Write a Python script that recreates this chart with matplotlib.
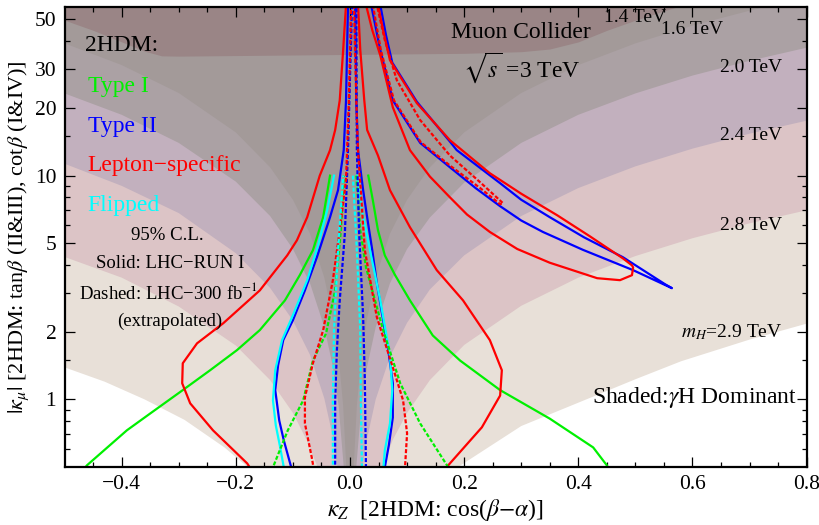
import matplotlib.pyplot as plt
from matplotlib.ticker import FixedLocator, NullFormatter

plt.rcParams['font.family'] = ['Liberation Serif', 'DejaVu Serif']
plt.rcParams['mathtext.fontset'] = 'stix'

# shaded "gamma H dominant" regions: lower boundary (kappa_Z, |kappa_mu|) per m_H
b29_kz = [-0.5, -0.43, -0.36, -0.29, -0.22, -0.18, 0.0, 0.19, 0.30, 0.41, 0.50, 0.58, 0.70, 0.80]
b29_mu = [1.39, 1.20, 1.0, 0.81, 0.61, 0.5, 0.05, 0.5, 0.76, 0.99, 1.23, 1.48, 1.85, 2.18]
b28_kz = [-0.5, -0.4, -0.3, -0.2, -0.14, -0.1, -0.075, -0.057, 0.0, 0.057, 0.075, 0.1, 0.14, 0.2, 0.3, 0.4, 0.5, 0.6, 0.7, 0.8]
b28_mu = [4.33, 3.5, 2.6, 1.74, 1.22, 0.87, 0.65, 0.5, 0.05, 0.5, 0.66, 0.87, 1.22, 1.75, 2.62, 3.5, 4.37, 5.25, 6.12, 7.0]
b24_kz = [-0.5, -0.4, -0.3, -0.2, -0.14, -0.1, -0.07, -0.045, -0.03, -0.022, 0.0, 0.022, 0.03, 0.045, 0.07, 0.1, 0.14, 0.2, 0.3, 0.4, 0.5, 0.6, 0.7, 0.8]
b24_mu = [11.3, 9.0, 6.8, 4.5, 3.15, 2.25, 1.58, 1.01, 0.68, 0.5, 0.05, 0.5, 0.67, 1.0, 1.55, 2.2, 3.1, 4.4, 6.6, 8.8, 11.0, 13.2, 15.4, 17.6]
b20_kz = [-0.5, -0.4, -0.3, -0.2, -0.14, -0.1, -0.07, -0.045, -0.03, -0.02, -0.011, 0.0, 0.011, 0.02, 0.03, 0.045, 0.07, 0.1, 0.14, 0.2, 0.3, 0.4, 0.5, 0.6, 0.7, 0.8]
b20_mu = [23.3, 18.7, 14.0, 9.4, 6.6, 4.7, 3.3, 2.1, 1.4, 0.94, 0.5, 0.05, 0.5, 0.94, 1.4, 2.1, 3.3, 4.7, 6.5, 9.3, 14.0, 18.7, 23.3, 28.0, 32.6, 37.3]
b16_kz = [-0.5, -0.4, -0.3, -0.2, -0.14, -0.1, -0.07, -0.045, -0.03, -0.02, -0.012, -0.0065, 0.0, 0.0065, 0.012, 0.02, 0.03, 0.045, 0.07, 0.1, 0.14, 0.2, 0.3, 0.4, 0.5, 0.6, 0.7, 0.75]
b16_mu = [39, 31.2, 23.4, 15.6, 10.9, 7.8, 5.5, 3.5, 2.3, 1.56, 0.94, 0.5, 0.05, 0.5, 0.94, 1.56, 2.3, 3.5, 5.5, 7.8, 10.9, 15.6, 23.4, 31.2, 39, 46.8, 54.6, 58.5]
b14_kz = [-0.5, -0.45, -0.4, -0.36, -0.33, -0.3, -0.2, 0.0, 0.2, 0.3, 0.35, 0.4, 0.45, 0.5, 0.56, 0.6]
b14_mu = [49.5, 44.6, 39.6, 36.0, 34.3, 34.2, 34.4, 34.8, 35.2, 35.8, 36.8, 39.6, 44.6, 49.5, 55.5, 59.4]

# 95% C.L. contours, LHC Run I (solid)
ls1_kz = [-0.172, -0.180, -0.240, -0.280, -0.294, -0.293, -0.268, -0.222, -0.158, -0.110, -0.093, -0.075, -0.053, -0.035, -0.026, -0.018, -0.012, -0.007,
          0.014, 0.018, 0.025, 0.030, 0.049, 0.070, 0.105, 0.152, 0.198, 0.245, 0.266, 0.263, 0.231, 0.172, 0.166]
ls1_mu = [0.48, 0.517, 0.727, 0.96, 1.18, 1.45, 1.78, 2.19, 3.07, 4.40, 5.14, 6.52, 10.0, 13.0, 16.0, 21.7, 36.4, 58,
          58, 36.4, 21.7, 16.0, 12.3, 8.61, 5.88, 3.78, 2.77, 1.84, 1.35, 1.04, 0.75, 0.507, 0.48]
ls1w_kz = [0.028, 0.039, 0.053, 0.075, 0.105, 0.140, 0.175, 0.205, 0.245, 0.293, 0.350, 0.433, 0.473, 0.494, 0.496,
           0.494, 0.478, 0.420, 0.363, 0.300, 0.245, 0.175, 0.117, 0.070, 0.058, 0.049]
ls1w_mu = [58, 44.7, 34.5, 20.2, 13.0, 9.9, 8.0, 6.7, 5.6, 4.7, 4.08, 3.48, 3.41, 3.59, 3.89,
           3.97, 4.27, 5.36, 6.65, 8.3, 10.25, 14.4, 21.1, 32.8, 44.7, 58]
t21_kz = [-0.101, -0.103, -0.116, -0.124, -0.131, -0.126, -0.117, -0.100, -0.079, -0.058, -0.035, -0.021, -0.011, -0.007, -0.0035,
          0.009, 0.011, 0.014, 0.023, 0.030, 0.039, 0.047, 0.058, 0.067, 0.075, 0.075, 0.068, 0.061, 0.060]
t21_mu = [0.48, 0.497, 0.656, 0.805, 1.10, 1.42, 1.84, 2.26, 3.07, 4.32, 6.52, 8.61, 13.0, 21.7, 58,
          58, 21.7, 13.0, 8.61, 6.52, 4.64, 3.30, 2.26, 1.66, 1.18, 0.83, 0.623, 0.497, 0.48]
t2w_kz = [0.037, 0.053, 0.075, 0.123, 0.175, 0.220, 0.263, 0.300, 0.338, 0.408, 0.496, 0.564,
          0.552, 0.478, 0.410, 0.350, 0.300, 0.263, 0.187, 0.175, 0.117, 0.074, 0.063, 0.053]
t2w_mu = [58, 36.4, 21.7, 14.0, 10.9, 8.8, 7.3, 6.3, 5.6, 4.66, 3.78, 3.14,
          3.27, 4.32, 5.3, 6.52, 7.8, 9.25, 13.0, 14.2, 21.4, 32.0, 42.5, 58]
t1l_kz = [-0.468, -0.461, -0.391, -0.350, -0.293, -0.245, -0.198, -0.158, -0.114, -0.088, -0.065, -0.047, -0.035]
t1l_mu = [0.48, 0.507, 0.727, 0.865, 1.10, 1.35, 1.66, 2.04, 2.77, 3.59, 4.64, 6.52, 10.0]
t1r_kz = [0.032, 0.040, 0.049, 0.061, 0.079, 0.105, 0.145, 0.193, 0.263, 0.350, 0.426, 0.450, 0.454]
t1r_mu = [10.0, 7.76, 5.70, 4.40, 3.59, 2.77, 1.93, 1.49, 1.10, 0.82, 0.61, 0.507, 0.48]
fl1l_kz = [-0.114, -0.116, -0.123, -0.130, -0.135, -0.131, -0.119, -0.100, -0.075, -0.056, -0.040, -0.028]
fl1l_mu = [0.48, 0.497, 0.623, 0.765, 0.99, 1.35, 1.84, 2.38, 3.41, 4.88, 7.0, 10.0]
fl1r_kz = [0.012, 0.021, 0.035, 0.053, 0.070, 0.074, 0.070, 0.061, 0.058]
fl1r_mu = [10.0, 7.0, 4.64, 2.77, 1.57, 1.10, 0.78, 0.592, 0.48]

# LHC 300 fb^-1 extrapolated (dashed)
ls3_kz = [-0.063, -0.067, -0.079, -0.079, -0.065, -0.047, -0.030, -0.018, -0.007, -0.002, 0.002,
          0.007, 0.011, 0.014, 0.026, 0.047, 0.075, 0.093, 0.100, 0.096]
ls3_mu = [0.48, 0.55, 0.78, 1.02, 1.45, 2.04, 3.41, 5.70, 9.53, 21.7, 58,
          58, 21.7, 13.0, 4.64, 2.33, 1.39, 0.99, 0.705, 0.48]
ls3w_kz = [0.040, 0.054, 0.077, 0.124, 0.177, 0.228, 0.263, 0.268, 0.228, 0.175, 0.123, 0.082, 0.061, 0.047]
ls3w_mu = [58, 36.4, 21.7, 14.1, 11.0, 8.8, 7.45, 7.53, 9.34, 12.3, 17.7, 26.7, 40.3, 58]
t23_kz = [-0.026, -0.026, -0.023, -0.018, -0.009, -0.0035, 0.0035, 0.011, 0.012, 0.016, 0.023, 0.026, 0.028]
t23_mu = [0.48, 0.99, 1.66, 2.77, 5.52, 13.0, 58, 58, 13.0, 5.52, 2.33, 1.22, 0.48]
t13l_kz = [-0.138, -0.135, -0.109, -0.082, -0.065, -0.042, -0.026, -0.016, -0.011]
t13l_mu = [0.48, 0.497, 0.727, 0.99, 1.49, 1.97, 3.07, 5.70, 10.0]
t13r_kz = [0.011, 0.018, 0.028, 0.058, 0.088, 0.123, 0.170, 0.173]
t13r_mu = [10.0, 5.70, 3.89, 2.04, 1.18, 0.78, 0.507, 0.48]
fl3l_kz = [-0.030, -0.030, -0.028, -0.021, -0.012]
fl3l_mu = [0.48, 0.99, 2.04, 4.64, 10.0]
fl3r_kz = [0.005, 0.012, 0.018, 0.019, 0.021]
fl3r_mu = [10.0, 4.64, 2.04, 0.99, 0.48]

GREEN, BLUE, RED, CYAN = '#00f000', '#0000ff', '#ff0000', '#00ffff'

fig = plt.figure(figsize=(8.19, 5.25), dpi=100)
ax = fig.add_axes([0.0789, 0.111, 0.906, 0.875])

bands = [(b29_kz, b29_mu, '#e8e0d8'), (b28_kz, b28_mu, '#dcc4c6'), (b24_kz, b24_mu, '#c2b0be'),
         (b20_kz, b20_mu, '#aba1a4'), (b16_kz, b16_mu, '#a39a99'), (b14_kz, b14_mu, '#9a8586')]
for kz, mu, c in bands:
    ax.fill_between(kz, mu, 1000, color=c, lw=0, zorder=1)

lw = 1.6
dash = (1.8, 0.9)
solid = [(t1l_kz, t1l_mu, GREEN), (t1r_kz, t1r_mu, GREEN),
         (t21_kz, t21_mu, BLUE), (t2w_kz, t2w_mu, BLUE),
         (ls1_kz, ls1_mu, RED), (ls1w_kz, ls1w_mu, RED),
         (fl1l_kz, fl1l_mu, CYAN), (fl1r_kz, fl1r_mu, CYAN)]
for kz, mu, c in solid:
    ax.plot(kz, mu, color=c, lw=lw, zorder=3)
dashed = [(t13l_kz, t13l_mu, GREEN), (t13r_kz, t13r_mu, GREEN),
          (t23_kz, t23_mu, BLUE),
          (ls3_kz, ls3_mu, RED), (ls3w_kz, ls3w_mu, RED),
          (fl3l_kz, fl3l_mu, CYAN), (fl3r_kz, fl3r_mu, CYAN)]
for kz, mu, c in dashed:
    ax.plot(kz, mu, color=c, lw=lw, dashes=dash, zorder=4)

ax.set_xlim(-0.5, 0.8)
ax.set_yscale('log')
ax.set_ylim(0.5, 56.5)

ax.set_xticks([-0.4, -0.2, 0.0, 0.2, 0.4, 0.6, 0.8])
ax.set_xticklabels(['\u22120.4', '\u22120.2', '0.0', '0.2', '0.4', '0.6', '0.8'])
ax.xaxis.set_minor_locator(FixedLocator([-0.45, -0.35, -0.3, -0.25, -0.15, -0.1, -0.05, 0.05, 0.1, 0.15,
                                         0.25, 0.3, 0.35, 0.45, 0.5, 0.55, 0.65, 0.7, 0.75]))
ax.set_yticks([1, 2, 5, 10, 20, 30, 50])
ax.set_yticklabels(['1', '2', '5', '10', '20', '30', '50'])
ax.yaxis.set_minor_locator(FixedLocator([0.6, 0.7, 0.8, 0.9, 1.5, 3, 4, 6, 7, 8, 9, 15, 40]))
ax.yaxis.set_minor_formatter(NullFormatter())
ax.tick_params(which='both', direction='in', top=True, right=True, width=0.9, labelsize=15.5)
ax.tick_params(which='major', length=7, pad=6)
ax.tick_params(which='minor', length=3.5)
for s in ax.spines.values():
    s.set_linewidth(1.6)
    s.set_zorder(6)

tr = ax.transAxes
ax.text(0.0275, 0.918, '2HDM:', fontsize=17, va='center', transform=tr, zorder=7)
ax.text(0.0315, 0.827, 'Type I', fontsize=17, color=GREEN, va='center', transform=tr, zorder=7)
ax.text(0.0315, 0.741, 'Type II', fontsize=17, color=BLUE, va='center', transform=tr, zorder=7)
ax.text(0.030, 0.656, 'Lepton\u2212specific', fontsize=17, color=RED, va='center', transform=tr, zorder=7)
ax.text(0.030, 0.569, 'Flipped', fontsize=17, color=CYAN, va='center', transform=tr, zorder=7)
ax.text(0.138, 0.504, '95% C.L.', fontsize=13.5, ha='center', va='center', transform=tr, zorder=7)
ax.text(0.142, 0.443, 'Solid: LHC\u2212RUN I', fontsize=13.5, ha='center', va='center', transform=tr, zorder=7)
ax.text(0.140, 0.380, 'Dashed: LHC\u2212300 fb$^{-1}$', fontsize=13.5, ha='center', va='center', transform=tr, zorder=7)
ax.text(0.142, 0.317, '(extrapolated)', fontsize=13.5, ha='center', va='center', transform=tr, zorder=7)

ax.text(0.615, 0.945, 'Muon Collider', fontsize=17, ha='center', va='center', transform=tr, zorder=7)
ax.text(0.616, 0.868, r'$\sqrt{s}$ =3 TeV', fontsize=17, ha='center', va='center', transform=tr, zorder=7)
ax.text(0.769, 0.977, '1.4 TeV', fontsize=14, ha='center', va='center', transform=tr, zorder=7)
ax.text(0.846, 0.951, '1.6 TeV', fontsize=14, ha='center', va='center', transform=tr, zorder=7)
ax.text(0.967, 0.868, '2.0 TeV', fontsize=14, ha='right', va='center', transform=tr, zorder=7)
ax.text(0.967, 0.722, '2.4 TeV', fontsize=14, ha='right', va='center', transform=tr, zorder=7)
ax.text(0.967, 0.526, '2.8 TeV', fontsize=14, ha='right', va='center', transform=tr, zorder=7)
ax.text(0.967, 0.293, '$m_H$=2.9 TeV', fontsize=14, ha='right', va='center', transform=tr, zorder=7)
ax.text(0.849, 0.150, r'Shaded:$\gamma$H Dominant', fontsize=17, ha='center', va='center', transform=tr, zorder=7)

fig.text(0.531, 0.028, r'$\kappa_Z$  [2HDM: cos($\beta$$-$$\alpha$)]', fontsize=17, ha='center', va='center')
fig.text(0.023, 0.549, r'$|\kappa_\mu|$ [2HDM: tan$\beta$ (II&III), cot$\beta$ (I&IV)]', fontsize=16,
         rotation=90, ha='center', va='center')

fig.savefig('out.png', dpi=100)
